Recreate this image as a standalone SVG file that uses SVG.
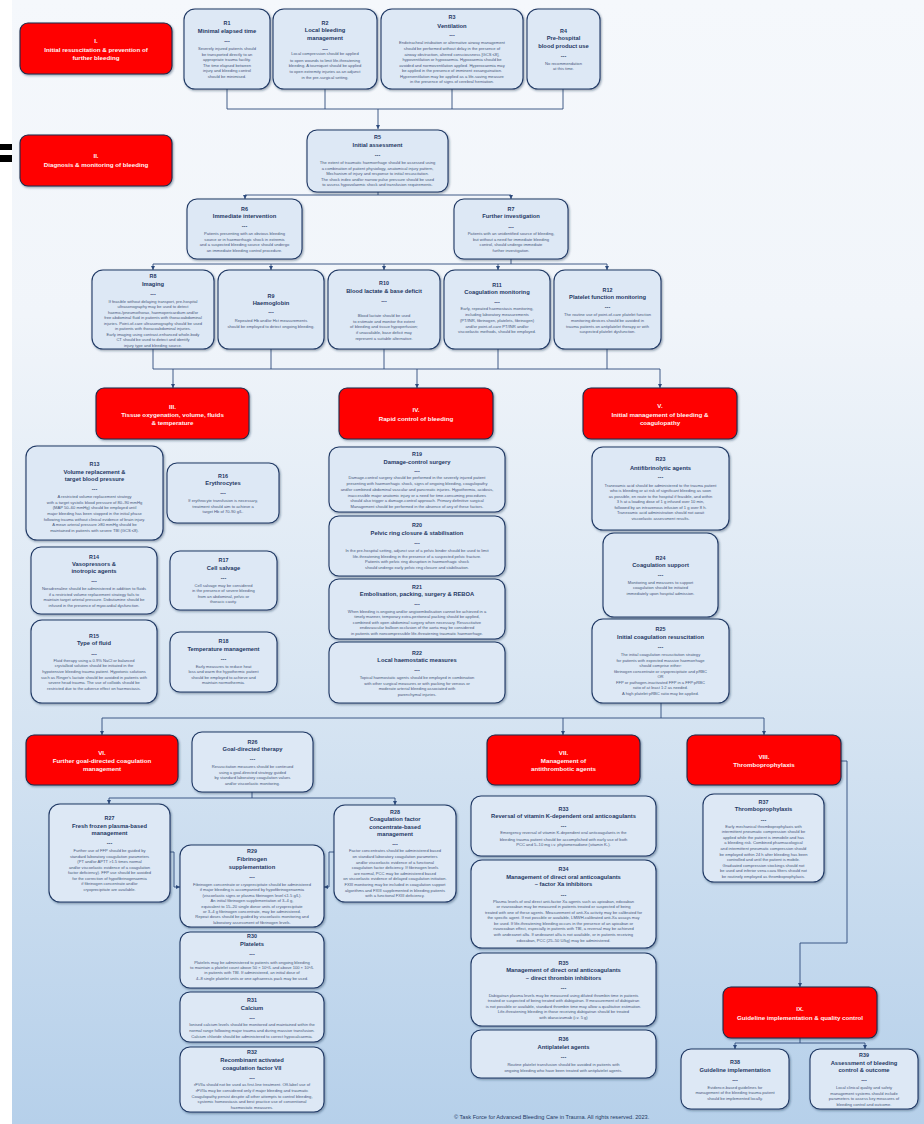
<svg xmlns="http://www.w3.org/2000/svg" width="924" height="1124" viewBox="0 0 924 1124">
<defs>
<linearGradient id="bg" x1="0" y1="0" x2="0" y2="1">
<stop offset="0" stop-color="#f5f8fc"/>
<stop offset="0.28" stop-color="#f1f5fa"/>
<stop offset="0.6" stop-color="#d9e6f3"/>
<stop offset="1" stop-color="#b6d0ea"/>
</linearGradient>
<filter id="sh" x="-10%" y="-10%" width="125%" height="130%">
<feDropShadow dx="1" dy="1.2" stdDeviation="0.8" flood-color="#1a2a4a" flood-opacity="0.45"/>
</filter>
<marker id="ar" markerWidth="4" markerHeight="4" refX="4" refY="2" orient="auto" markerUnits="userSpaceOnUse">
<path d="M0,0 L4,2 L0,4 z" fill="#2c4a7c"/>
</marker>
<style>
.b{fill:#dde8f5;stroke:#1f3864;stroke-width:1.1;filter:url(#sh)}
.s{fill:#ff0000;stroke:#1c2a4a;stroke-width:1.1;filter:url(#sh)}
.n,.t,.d{font-family:'Liberation Sans',Arial,sans-serif;font-weight:bold;fill:#1f3864;text-anchor:middle}
.n{font-size:5.4px}
.t{font-size:5.8px}
.d{font-size:5.4px}
.y{font-family:'Liberation Sans',Arial,sans-serif;font-size:4.1px;fill:#47577a;text-anchor:middle}
.h{font-family:'Liberation Sans',Arial,sans-serif;font-weight:bold;font-size:6.2px;fill:#fff4f4;text-anchor:middle}
.l{stroke:#2c4a7c;stroke-width:0.9;fill:none}
.a{stroke:#2c4a7c;stroke-width:0.9;fill:none;marker-end:url(#ar)}
.f{font-family:'Liberation Sans',Arial,sans-serif;font-size:5.6px;fill:#1f3864}
</style>
</defs>
<rect x="0" y="0" width="924" height="1124" fill="#ffffff"/>
<rect x="12" y="0" width="912" height="1124" fill="url(#bg)"/>
<rect x="0" y="144" width="12" height="6" fill="#000"/>
<rect x="0" y="155" width="12" height="7" fill="#000"/>

<g id="connectors">
<path class="l" d="M227,89V109M325,89V109M452,89V109M563,89V109M227,109H563"/>
<path class="a" d="M378,109V129"/>
<path class="l" d="M378,192V195M245,195H511"/>
<path class="a" d="M245,195V199"/>
<path class="a" d="M511,195V199"/>
<path class="l" d="M511,259V264M153,264H607"/>
<path class="a" d="M153,264V270"/>
<path class="a" d="M271,264V270"/>
<path class="a" d="M384,264V270"/>
<path class="a" d="M498,264V270"/>
<path class="a" d="M607,264V270"/>
<path class="l" d="M153,349V369M271,349V369M384,349V369M498,349V369M607,349V369M153,369H660"/>
<path class="a" d="M173,369V388"/>
<path class="a" d="M417,369V388"/>
<path class="a" d="M660,369V388"/>
<path class="l" d="M661,703V718M102,718H764"/>
<path class="a" d="M102,718V735"/>
<path class="a" d="M563,718V735"/>
<path class="a" d="M764,718V735"/>
<path class="l" d="M252,792V798M109,798H395"/>
<path class="a" d="M109,798V804"/>
<path class="a" d="M395,798V805"/>
<path class="a" d="M170,852H174V887H180"/>
<path class="a" d="M334,852H329V887H324"/>
<path class="a" d="M841,761H847V943H800V987"/>
<path class="l" d="M800,1038V1043M735,1043H865"/>
<path class="a" d="M735,1043V1049"/>
<path class="a" d="M865,1043V1049"/>
</g>

<g id="secI"><rect class="s" x="20" y="23" width="152" height="51" rx="8"/>
<text class="h" x="96" y="42.5">I.</text><text class="h" x="96" y="51.5">Initial resuscitation  &amp; prevention of</text><text class="h" x="96" y="59.9">further bleeding</text></g>
<g id="secII"><rect class="s" x="20" y="135" width="152" height="51" rx="8"/>
<text class="h" x="96" y="158.2">II.</text><text class="h" x="96" y="166.9">Diagnosis &amp; monitoring of bleeding</text></g>
<g id="secIII"><rect class="s" x="96" y="388" width="153" height="51" rx="8"/>
<text class="h" x="172.5" y="409.2">III.</text><text class="h" x="172.5" y="416.9">Tissue oxygenation, volume, fluids</text><text class="h" x="172.5" y="424.5">&amp; temperature</text></g>
<g id="secIV"><rect class="s" x="339" y="388" width="154" height="51" rx="8"/>
<text class="h" x="416" y="412.2">IV.</text><text class="h" x="416" y="420.9">Rapid control of bleeding</text></g>
<g id="secV"><rect class="s" x="583" y="388" width="154" height="51" rx="8"/>
<text class="h" x="660" y="408.2">V.</text><text class="h" x="660" y="416.5">Initial management of bleeding &amp;</text><text class="h" x="660" y="424.9">coagulopathy</text></g>
<g id="secVI"><rect class="s" x="26" y="735" width="152" height="50" rx="8"/>
<text class="h" x="102" y="754.5">VI.</text><text class="h" x="102" y="762.9">Further goal-directed coagulation</text><text class="h" x="102" y="770.9">management</text></g>
<g id="secVII"><rect class="s" x="487" y="735" width="153" height="50" rx="8"/>
<text class="h" x="563.5" y="754.5">VII.</text><text class="h" x="563.5" y="762.9">Management of</text><text class="h" x="563.5" y="770.9">antithrombotic agents</text></g>
<g id="secVIII"><rect class="s" x="687" y="735" width="154" height="50" rx="8"/>
<text class="h" x="764" y="758.5">VIII.</text><text class="h" x="764" y="766.9">Thromboprophylaxis</text></g>
<g id="secIX"><rect class="s" x="723" y="987" width="154" height="51" rx="8"/>
<text class="h" x="800" y="1010.5">IX.</text><text class="h" x="800" y="1019.9">Guideline implementation &amp; quality control</text></g>

<g id="R1"><rect class="b" x="184" y="9" width="86" height="80" rx="11"/>
<text class="n" x="227" y="25.2">R1</text><text class="t" x="227" y="32.9">Minimal elapsed time</text><text class="d" x="227" y="42.7">---</text>
<text class="y"><tspan x="227" y="49.8">Severely injured patients should</tspan><tspan x="227" y="55.5">be transported directly to an</tspan><tspan x="227" y="60.8">appropriate trauma facility.</tspan><tspan x="227" y="66.8">The time elapsed between</tspan><tspan x="227" y="72.2">injury and bleeding control</tspan><tspan x="227" y="77.8">should be minimised.</tspan></text></g>

<g id="R2"><rect class="b" x="273" y="9" width="104" height="80" rx="11"/>
<text class="n" x="325" y="24.6">R2</text><text class="t" x="325" y="31.9">Local bleeding</text><text class="t" x="325" y="39.9">management</text><text class="d" x="325" y="50.7">---</text>
<text class="y"><tspan x="325" y="55.2">Local compression should be applied</tspan><tspan x="325" y="61.5">to open wounds to limit life-threatening</tspan><tspan x="325" y="67.2">bleeding. A tourniquet should be applied</tspan><tspan x="325" y="73.2">to open extremity injuries as an adjunct</tspan><tspan x="325" y="78.8">in the pre-surgical setting.</tspan></text></g>

<g id="R3"><rect class="b" x="381" y="9" width="142" height="80" rx="11"/>
<text class="n" x="452" y="19.2">R3</text><text class="t" x="452" y="27.6">Ventilation</text><text class="d" x="452" y="37">---</text>
<text class="y"><tspan x="452" y="43.8">Endotracheal intubation or alternative airway management</tspan><tspan x="452" y="49.5">should be performed without delay in the presence of</tspan><tspan x="452" y="55.5">airway obstruction, altered consciousness [GCS ≤8],</tspan><tspan x="452" y="60.8">hypoventilation or hypoxaemia. Hypoxaemia should be</tspan><tspan x="452" y="66.5">avoided and normoventilation applied. Hyperoxaemia may</tspan><tspan x="452" y="72.2">be applied in the presence of imminent exsanguination.</tspan><tspan x="452" y="77.8">Hyperventilation may be applied as a life-saving measure</tspan><tspan x="452" y="83.2">in the presence of signs of cerebral herniation.</tspan></text></g>

<g id="R4"><rect class="b" x="527" y="9" width="73" height="80" rx="11"/>
<text class="n" x="563.5" y="32.6">R4</text><text class="t" x="563.5" y="39.9">Pre-hospital</text><text class="t" x="563.5" y="47.9">blood product use</text><text class="d" x="563.5" y="57.7">---</text>
<text class="y"><tspan x="563.5" y="64.8">No recommendation</tspan><tspan x="563.5" y="69.8">at this time.</tspan></text></g>

<g id="R5"><rect class="b" x="307" y="130" width="141" height="62" rx="10"/>
<text class="n" x="377.5" y="138.9">R5</text><text class="t" x="377.5" y="146.6">Initial assessment</text><text class="d" x="377.5" y="157">---</text>
<text class="y"><tspan x="377.5" y="163.8">The extent of traumatic haemorrhage should be assessed using</tspan><tspan x="377.5" y="169.8">a combination of patient physiology, anatomical injury pattern,</tspan><tspan x="377.5" y="174.8">Mechanism of injury and response to initial resuscitation.</tspan><tspan x="377.5" y="180.5">The shock index and/or narrow pulse pressure should be used</tspan><tspan x="377.5" y="185.8">to assess hypovolaemic shock and transfusion requirements.</tspan></text></g>

<g id="R6"><rect class="b" x="187" y="199" width="115" height="60" rx="10"/>
<text class="n" x="244.5" y="210.6">R6</text><text class="t" x="244.5" y="217.9">Immediate intervention</text><text class="d" x="244.5" y="228.4">---</text>
<text class="y"><tspan x="244.5" y="234.8">Patients presenting with an obvious bleeding</tspan><tspan x="244.5" y="240.5">source or in haemorrhagic shock in extremis</tspan><tspan x="244.5" y="245.8">and a suspected bleeding source should undergo</tspan><tspan x="244.5" y="251.5">an immediate bleeding control procedure.</tspan></text></g>

<g id="R7"><rect class="b" x="454" y="199" width="114" height="60" rx="10"/>
<text class="n" x="511" y="210.6">R7</text><text class="t" x="511" y="217.9">Further investigation</text><text class="d" x="511" y="228.7">---</text>
<text class="y"><tspan x="511" y="234.8">Patients with an unidentified source of bleeding,</tspan><tspan x="511" y="240.8">but without a need for immediate bleeding</tspan><tspan x="511" y="246.2">control, should undergo immediate</tspan><tspan x="511" y="251.8">further investigation.</tspan></text></g>

<g id="R8"><rect class="b" x="92" y="270" width="122" height="79" rx="11"/>
<text class="n" x="153" y="277.9">R8</text><text class="t" x="153" y="285.9">Imaging</text><text class="d" x="153" y="296">---</text>
<text class="y"><tspan x="153" y="302.5">If feasible without delaying transport, pre-hospital</tspan><tspan x="153" y="307.8">ultrasonography may be used to detect</tspan><tspan x="153" y="313.5">haemo-/pneumothorax, haemopericardium and/or</tspan><tspan x="153" y="318.8">free abdominal fluid in patients with thoracoabdominal</tspan><tspan x="153" y="324.5">injuries. Point-of-care ultrasonography should be used</tspan><tspan x="153" y="329.8">in patients with thoracoabdominal injuries.</tspan><tspan x="153" y="335.8">Early imaging using contrast-enhanced whole-body</tspan><tspan x="153" y="341.2">CT should be used to detect and identify</tspan><tspan x="153" y="346.8">injury type and bleeding source.</tspan></text></g>

<g id="R9"><rect class="b" x="218" y="270" width="106" height="79" rx="11"/>
<text class="n" x="271" y="297.6">R9</text><text class="t" x="271" y="304.6">Haemoglobin</text><text class="d" x="271" y="314.4">---</text>
<text class="y"><tspan x="271" y="321.5">Repeated Hb and/or Hct measurements</tspan><tspan x="271" y="327.5">should be employed to detect ongoing bleeding.</tspan></text></g>

<g id="R10"><rect class="b" x="328" y="270" width="112" height="79" rx="11"/>
<text class="n" x="384" y="285.2">R10</text><text class="t" x="384" y="292.6">Blood lactate &amp; base deficit</text><text class="d" x="384" y="302.7">---</text>
<text class="y"><tspan x="384" y="316.5">Blood lactate should be used</tspan><tspan x="384" y="322.5">to estimate and monitor the extent</tspan><tspan x="384" y="328.2">of bleeding and tissue hypoperfusion;</tspan><tspan x="384" y="333.8">if unavailable, base deficit may</tspan><tspan x="384" y="339.5">represent a suitable alternative.</tspan></text></g>

<g id="R11"><rect class="b" x="444" y="270" width="106" height="79" rx="11"/>
<text class="n" x="497" y="286.9">R11</text><text class="t" x="497" y="293.6">Coagulation monitoring</text><text class="d" x="497" y="303.7">---</text>
<text class="y"><tspan x="497" y="310.2">Early, repeated haemostasis monitoring,</tspan><tspan x="497" y="315.8">including laboratory measurements</tspan><tspan x="497" y="321.5">(PT/INR, fibrinogen, platelets, fibrinogen)</tspan><tspan x="497" y="327.5">and/or point-of-care PT/INR and/or</tspan><tspan x="497" y="332.8">viscoelastic methods, should be employed.</tspan></text></g>

<g id="R12"><rect class="b" x="554" y="270" width="107" height="79" rx="11"/>
<text class="n" x="607.5" y="291.6">R12</text><text class="t" x="607.5" y="298.9">Platelet function monitoring</text><text class="d" x="607.5" y="309.4">---</text>
<text class="y"><tspan x="607.5" y="315.8">The routine use of point-of-care platelet function</tspan><tspan x="607.5" y="321.5">monitoring devices should be avoided in</tspan><tspan x="607.5" y="327.5">trauma patients on antiplatelet therapy or with</tspan><tspan x="607.5" y="333.2">suspected platelet dysfunction.</tspan></text></g>

<g id="R13"><rect class="b" x="26" y="446" width="137" height="94" rx="11"/>
<text class="n" x="94.5" y="466.2">R13</text><text class="t" x="94.5" y="473.6">Volume replacement &amp;</text><text class="t" x="94.5" y="480.6">target blood pressure</text><text class="d" x="94.5" y="491">---</text>
<text class="y"><tspan x="94.5" y="497.8">A restricted volume replacement strategy</tspan><tspan x="94.5" y="503.5">with a target systolic blood pressure of  80–90 mmHg</tspan><tspan x="94.5" y="508.8">(MAP 50–60 mmHg) should be employed until</tspan><tspan x="94.5" y="514.8">major bleeding has been stopped in the initial phase</tspan><tspan x="94.5" y="520.5">following trauma without clinical evidence of brain injury.</tspan><tspan x="94.5" y="525.8">A mean arterial pressure ≥80 mmHg should be</tspan><tspan x="94.5" y="531.5">maintained in patients with severe TBI (GCS ≤8).</tspan></text></g>

<g id="R16"><rect class="b" x="167" y="463" width="112" height="60" rx="10"/>
<text class="n" x="223" y="477.6">R16</text><text class="t" x="223" y="484.6">Erythrocytes</text><text class="d" x="223" y="495.4">---</text>
<text class="y"><tspan x="223" y="501.8">If erythrocyte transfusion is necessary,</tspan><tspan x="223" y="507.5">treatment should aim to achieve a</tspan><tspan x="223" y="512.8">target Hb of 70-90 g/L.</tspan></text></g>

<g id="R14"><rect class="b" x="31" y="547" width="126" height="67" rx="10"/>
<text class="n" x="94" y="558.6">R14</text><text class="t" x="94" y="565.9">Vasopressors &amp;</text><text class="t" x="94" y="572.9">inotropic agents</text><text class="d" x="94" y="583.4">---</text>
<text class="y"><tspan x="94" y="589.8">Noradrenaline should be administered in addition to fluids</tspan><tspan x="94" y="595.5">if a restricted volume replacement strategy fails to</tspan><tspan x="94" y="600.8">maintain target arterial pressure. Dobutamine should be</tspan><tspan x="94" y="606.5">infused in the presence of myocardial dysfunction.</tspan></text></g>

<g id="R17"><rect class="b" x="170" y="551" width="107" height="59" rx="10"/>
<text class="n" x="223.5" y="561.6">R17</text><text class="t" x="223.5" y="569.6">Cell salvage</text><text class="d" x="223.5" y="580">---</text>
<text class="y"><tspan x="223.5" y="586.5">Cell salvage may be considered</tspan><tspan x="223.5" y="591.8">in the presence of severe bleeding</tspan><tspan x="223.5" y="597.5">from an abdominal, pelvic or</tspan><tspan x="223.5" y="603.2">thoracic cavity.</tspan></text></g>

<g id="R15"><rect class="b" x="31" y="620" width="126" height="83" rx="11"/>
<text class="n" x="94" y="637.6">R15</text><text class="t" x="94" y="644.9">Type of fluid</text><text class="d" x="94" y="655.7">---</text>
<text class="y"><tspan x="94" y="661.5">Fluid therapy using a 0.9% NaCl or balanced</tspan><tspan x="94" y="667.2">crystalloid solution should be initiated in the</tspan><tspan x="94" y="672.8">hypotensive bleeding trauma patient. Hypotonic solutions</tspan><tspan x="94" y="678.5">such as Ringer's lactate should be avoided in patients with</tspan><tspan x="94" y="683.8">severe head trauma. The use of colloids should be</tspan><tspan x="94" y="689.5">restricted due to the adverse effect on haemostasis.</tspan></text></g>

<g id="R18"><rect class="b" x="170" y="632" width="107" height="60" rx="10"/>
<text class="n" x="223.5" y="642.6">R18</text><text class="t" x="223.5" y="650.6">Temperature management</text><text class="d" x="223.5" y="661">---</text>
<text class="y"><tspan x="223.5" y="667.5">Early measures to reduce heat</tspan><tspan x="223.5" y="672.8">loss and warm the hypothermic patient</tspan><tspan x="223.5" y="678.5">should be employed to achieve and</tspan><tspan x="223.5" y="683.8">maintain normothermia.</tspan></text></g>

<g id="R19"><rect class="b" x="329" y="447" width="176" height="65" rx="10"/>
<text class="n" x="417" y="455.9">R19</text><text class="t" x="417" y="463.9">Damage-control surgery</text><text class="d" x="417" y="473.4">---</text>
<text class="y"><tspan x="417" y="479.2">Damage-control surgery should be performed in the severely injured patient</tspan><tspan x="417" y="485.2">presenting with haemorrhagic shock, signs of ongoing bleeding, coagulopathy</tspan><tspan x="417" y="491.2">and/or combined abdominal vascular and pancreatic injuries. Hypothermia, acidosis,</tspan><tspan x="417" y="496.5">inaccessible major anatomic injury or a need for time-consuming procedures</tspan><tspan x="417" y="502.2">should also trigger a damage-control approach. Primary definitive surgical</tspan><tspan x="417" y="507.8">Management should be performed in the absence of any of these factors.</tspan></text></g>

<g id="R20"><rect class="b" x="329" y="516" width="176" height="60" rx="10"/>
<text class="n" x="417" y="526.9">R20</text><text class="t" x="417" y="534.6">Pelvic ring closure &amp; stabilisation</text><text class="d" x="417" y="545">---</text>
<text class="y"><tspan x="417" y="551.8">In the pre-hospital setting, adjunct use of a pelvic binder should be used to limit</tspan><tspan x="417" y="557.5">life-threatening bleeding in the presence of a suspected pelvic fracture.</tspan><tspan x="417" y="562.5">Patients with pelvic ring disruption in haemorrhagic shock</tspan><tspan x="417" y="568.8">should undergo early pelvic ring closure and stabilisation.</tspan></text></g>

<g id="R21"><rect class="b" x="329" y="579" width="176" height="60" rx="10"/>
<text class="n" x="417" y="588.6">R21</text><text class="t" x="417" y="595.9">Embolisation, packing, surgery &amp; REBOA</text><text class="d" x="417" y="606">---</text>
<text class="y"><tspan x="417" y="612.8">When bleeding is ongoing and/or angioembolisation cannot be achieved in a</tspan><tspan x="417" y="618.2">timely manner, temporary extra-peritoneal packing should be applied,</tspan><tspan x="417" y="623.8">combined with open abdominal surgery when necessary. Resuscitative</tspan><tspan x="417" y="628.8">endovascular balloon occlusion of the aorta may be considered</tspan><tspan x="417" y="634.8">in patients with noncompressible life-threatening traumatic haemorrhage.</tspan></text></g>

<g id="R22"><rect class="b" x="329" y="642" width="176" height="61" rx="10"/>
<text class="n" x="417" y="654.6">R22</text><text class="t" x="417" y="661.9">Local haemostatic measures</text><text class="d" x="417" y="672">---</text>
<text class="y"><tspan x="417" y="678.8">Topical haemostatic agents should be employed in combination</tspan><tspan x="417" y="684.5">with other surgical measures or with packing for venous or</tspan><tspan x="417" y="689.8">moderate arterial bleeding associated with</tspan><tspan x="417" y="695.8">parenchymal injuries.</tspan></text></g>

<g id="R23"><rect class="b" x="592" y="447" width="137" height="83" rx="11"/>
<text class="n" x="660.5" y="461.2">R23</text><text class="t" x="660.5" y="469.6">Antifibrinolytic agents</text><text class="d" x="660.5" y="478.7">---</text>
<text class="y"><tspan x="660.5" y="486.8">Tranexamic acid should be administered to the trauma patient</tspan><tspan x="660.5" y="492.2">who is bleeding or at risk of significant bleeding as soon</tspan><tspan x="660.5" y="497.5">as possible, en route to the hospital if feasible, and within</tspan><tspan x="660.5" y="502.8">3 h at a loading dose of 1 g infused over  10 min,</tspan><tspan x="660.5" y="508.5">followed by an intravenous infusion of 1 g over 8 h.</tspan><tspan x="660.5" y="513.8">Tranexamic acid administration should not await</tspan><tspan x="660.5" y="519.5">viscoelastic assessment results.</tspan></text></g>

<g id="R24"><rect class="b" x="603" y="533" width="115" height="84" rx="11"/>
<text class="n" x="660.5" y="559.6">R24</text><text class="t" x="660.5" y="566.9">Coagulation support</text><text class="d" x="660.5" y="577.4">---</text>
<text class="y"><tspan x="660.5" y="583.8">Monitoring and measures to support</tspan><tspan x="660.5" y="588.8">coagulation should be initiated</tspan><tspan x="660.5" y="594.8">immediately upon hospital admission.</tspan></text></g>

<g id="R25"><rect class="b" x="592" y="619" width="137" height="84" rx="11"/>
<text class="n" x="660.5" y="631.2">R25</text><text class="t" x="660.5" y="638.6">Initial coagulation resuscitation</text><text class="d" x="660.5" y="649.4">---</text>
<text class="y"><tspan x="660.5" y="655.5">The initial coagulation resuscitation strategy</tspan><tspan x="660.5" y="661.5">for patients with expected massive haemorrhage</tspan><tspan x="660.5" y="666.8">should comprise either:</tspan><tspan x="660.5" y="672.8">fibrinogen concentrate or cryoprecipitate and pRBC</tspan><tspan x="660.5" y="677.8">OR</tspan><tspan x="660.5" y="683.8">FFP or pathogen-inactivated FFP in a FFP:pRBC</tspan><tspan x="660.5" y="689.2">ratio of at least 1:2 as needed.</tspan><tspan x="660.5" y="694.5">A high platelet:pRBC ratio may be applied.</tspan></text></g>

<g id="R26"><rect class="b" x="192" y="732" width="121" height="60" rx="10"/>
<text class="n" x="252.5" y="743.6">R26</text><text class="t" x="252.5" y="750.6">Goal-directed therapy</text><text class="d" x="252.5" y="760.7">---</text>
<text class="y"><tspan x="252.5" y="767.5">Resuscitation measures should be continued</tspan><tspan x="252.5" y="773.5">using a goal-directed strategy guided</tspan><tspan x="252.5" y="778.8">by standard laboratory coagulation values</tspan><tspan x="252.5" y="784.8">and/or viscoelastic monitoring.</tspan></text></g>

<g id="R27"><rect class="b" x="49" y="804" width="121" height="98" rx="11"/>
<text class="n" x="109.5" y="819.6">R27</text><text class="t" x="109.5" y="827.6">Fresh frozen plasma-based</text><text class="t" x="109.5" y="834.6">management</text><text class="d" x="109.5" y="845">---</text>
<text class="y"><tspan x="109.5" y="851.5">Further use of FFP should be guided by</tspan><tspan x="109.5" y="857.5">standard laboratory coagulation parameters</tspan><tspan x="109.5" y="862.8">(PT and/or APTT &gt;1.5 times normal</tspan><tspan x="109.5" y="868.5">and/or viscoelastic evidence of a coagulation</tspan><tspan x="109.5" y="873.8">factor deficiency). FFP use should be avoided</tspan><tspan x="109.5" y="879.5">for the correction of hypofibrinogenaemia</tspan><tspan x="109.5" y="884.8">if fibrinogen concentrate and/or</tspan><tspan x="109.5" y="890.5">cryoprecipitate are available.</tspan></text></g>

<g id="R28"><rect class="b" x="334" y="805" width="122" height="97" rx="11"/>
<text class="n" x="395" y="813.6">R28</text><text class="t" x="395" y="820.9">Coagulation factor</text><text class="t" x="395" y="828.6">concentrate-based</text><text class="t" x="395" y="835.6">management</text><text class="d" x="395" y="846.2">---</text>
<text class="y"><tspan x="395" y="852.2">Factor concentrates should be administered based</tspan><tspan x="395" y="857.8">on standard laboratory coagulation parameters</tspan><tspan x="395" y="863.5">and/or viscoelastic evidence of a functional</tspan><tspan x="395" y="869.2">coagulation factor deficiency. If fibrinogen levels</tspan><tspan x="395" y="874.5">are normal, PCC may be administered based</tspan><tspan x="395" y="880.2">on viscoelastic evidence of delayed coagulation initiation.</tspan><tspan x="395" y="885.8">FXIII monitoring may be included in coagulation support</tspan><tspan x="395" y="891.5">algorithms and FXIII supplemented in bleeding patients</tspan><tspan x="395" y="896.8">with a functional FXIII deficiency.</tspan></text></g>

<g id="R29"><rect class="b" x="180" y="845" width="144" height="82" rx="11"/>
<text class="n" x="252" y="852.9">R29</text><text class="t" x="252" y="860.6">Fibrinogen</text><text class="t" x="252" y="868.9">supplementation</text><text class="d" x="252" y="878.7">---</text>
<text class="y"><tspan x="252" y="885.5">Fibrinogen concentrate or cryoprecipitate should be administered</tspan><tspan x="252" y="890.5">if major bleeding is accompanied by hypofibrinogenaemia</tspan><tspan x="252" y="896.5">(viscoelastic signs or plasma fibrinogen level ≤1.5 g/L).</tspan><tspan x="252" y="901.8">An initial fibrinogen supplementation of 3–4 g,</tspan><tspan x="252" y="907.5">equivalent to 15–20 single donor units of cryoprecipitate</tspan><tspan x="252" y="912.8">or 3–4 g fibrinogen concentrate, may be administered.</tspan><tspan x="252" y="918.2">Repeat doses should be guided by viscoelastic monitoring and</tspan><tspan x="252" y="923.8">laboratory assessment of fibrinogen levels.</tspan></text></g>

<g id="R30"><rect class="b" x="180" y="932" width="144" height="56" rx="10"/>
<text class="n" x="252" y="938.2">R30</text><text class="t" x="252" y="946.2">Platelets</text><text class="d" x="252" y="956">---</text>
<text class="y"><tspan x="252" y="963.5">Platelets may be administered to patients with ongoing bleeding</tspan><tspan x="252" y="968.8">to maintain a platelet count above 50 × 10⁹/L and above 100 × 10⁹/L</tspan><tspan x="252" y="974.2">in patients with TBI. If administered, an initial dose of</tspan><tspan x="252" y="979.8">4–8 single platelet units or one aphaeresis pack may be used.</tspan></text></g>

<g id="R31"><rect class="b" x="180" y="992" width="144" height="50" rx="10"/>
<text class="n" x="252" y="1002.2">R31</text><text class="t" x="252" y="1009.6">Calcium</text><text class="d" x="252" y="1019.7">---</text>
<text class="y"><tspan x="252" y="1026.2">Ionised calcium levels should be monitored and maintained within the</tspan><tspan x="252" y="1031.8">normal range following major trauma and during massive transfusion.</tspan><tspan x="252" y="1037.5">Calcium chloride should be administered to correct hypocalcaemia.</tspan></text></g>

<g id="R32"><rect class="b" x="180" y="1047" width="144" height="65" rx="10"/>
<text class="n" x="252" y="1054.2">R32</text><text class="t" x="252" y="1062.2">Recombinant activated</text><text class="t" x="252" y="1069.6">coagulation factor VII</text><text class="d" x="252" y="1080.4">---</text>
<text class="y"><tspan x="252" y="1086.2">rFVIIa should not be used as first-line treatment. Off-label use of</tspan><tspan x="252" y="1092.2">rFVIIa may be considered only if major bleeding and traumatic</tspan><tspan x="252" y="1097.5">Coagulopathy persist despite all other attempts to control bleeding,</tspan><tspan x="252" y="1103.2">systemic homeostasis and best practice use of conventional</tspan><tspan x="252" y="1108.5">haemostatic measures.</tspan></text></g>

<g id="R33"><rect class="b" x="471" y="796" width="185" height="60" rx="10"/>
<text class="n" x="563.5" y="810.9">R33</text><text class="t" x="563.5" y="817.9">Reversal of vitamin K-dependent oral anticoagulants</text><text class="d" x="563.5" y="828.4">---</text>
<text class="y"><tspan x="563.5" y="834.2">Emergency reversal of vitamin K-dependent oral anticoagulants in the</tspan><tspan x="563.5" y="840.5">bleeding trauma patient should be accomplished with early use of both</tspan><tspan x="563.5" y="845.5">PCC and 5–10 mg i.v. phytomenadione (vitamin K₁).</tspan></text></g>

<g id="R34"><rect class="b" x="471" y="860" width="185" height="88" rx="11"/>
<text class="n" x="563.5" y="871.2">R34</text><text class="t" x="563.5" y="878.9">Management of direct oral anticoagulants</text><text class="t" x="563.5" y="885.6">– factor Xa inhibitors</text><text class="d" x="563.5" y="896.7">---</text>
<text class="y"><tspan x="563.5" y="902.5">Plasma levels of oral direct anti-factor Xa agents such as apixaban, edoxaban</tspan><tspan x="563.5" y="908.2">or rivaroxaban may be measured in patients treated or suspected of being</tspan><tspan x="563.5" y="913.5">treated with one of these agents. Measurement of anti-Xa activity may be calibrated for</tspan><tspan x="563.5" y="919.2">the specific agent. If not possible or available, LMWH-calibrated anti-Xa assays may</tspan><tspan x="563.5" y="924.8">be used. If life-threatening bleeding occurs in the presence of an  apixaban or</tspan><tspan x="563.5" y="930.2">rivaroxaban effect, especially in patients with TBI, a reversal may be achieved</tspan><tspan x="563.5" y="935.8">with andexanet alfa. If andexanet alfa is not available, or in patients receiving</tspan><tspan x="563.5" y="941.5">edoxaban, PCC (25–50 U/kg) may be administered.</tspan></text></g>

<g id="R35"><rect class="b" x="471" y="953" width="185" height="73" rx="11"/>
<text class="n" x="563.5" y="964.6">R35</text><text class="t" x="563.5" y="971.9">Management of direct oral anticoagulants</text><text class="t" x="563.5" y="979.6">– direct thrombin inhibitors</text><text class="d" x="563.5" y="990">---</text>
<text class="y"><tspan x="563.5" y="996.5">Dabigatran plasma levels may be measured using diluted thrombin time in patients</tspan><tspan x="563.5" y="1001.8">treated or suspected of being treated with dabigatran. If measurement of dabigatran</tspan><tspan x="563.5" y="1007.5">is not possible or available, standard thrombin time may allow a qualitative estimation.</tspan><tspan x="563.5" y="1013.2">Life-threatening bleeding in those receiving dabigatran should be treated</tspan><tspan x="563.5" y="1018.5">with idarucizumab (i.v. 5 g)</tspan></text></g>

<g id="R36"><rect class="b" x="471" y="1030" width="185" height="48" rx="10"/>
<text class="n" x="563.5" y="1041.2">R36</text><text class="t" x="563.5" y="1048.9">Antiplatelet agents</text><text class="d" x="563.5" y="1059.4">---</text>
<text class="y"><tspan x="563.5" y="1065.8">Routine platelet transfusion should be  avoided in patients with</tspan><tspan x="563.5" y="1071.5">ongoing bleeding who have been treated with antiplatelet agents.</tspan></text></g>

<g id="R37"><rect class="b" x="703" y="794" width="121" height="88" rx="11"/>
<text class="n" x="763.5" y="803.6">R37</text><text class="t" x="763.5" y="810.9">Thromboprophylaxis</text><text class="d" x="763.5" y="821.7">---</text>
<text class="y"><tspan x="763.5" y="827.5">Early mechanical thromboprophylaxis with</tspan><tspan x="763.5" y="833.2">intermittent pneumatic compression should be</tspan><tspan x="763.5" y="838.5">applied while the patient is immobile and has</tspan><tspan x="763.5" y="843.8">a bleeding risk. Combined pharmacological</tspan><tspan x="763.5" y="849.8">and intermittent pneumatic compression should</tspan><tspan x="763.5" y="855.5">be employed within 24 h after bleeding has been</tspan><tspan x="763.5" y="860.8">controlled and until the patient is mobile.</tspan><tspan x="763.5" y="866.5">Graduated compression stockings should not</tspan><tspan x="763.5" y="871.8">be used and inferior vena cava filters should not</tspan><tspan x="763.5" y="877.8">be routinely employed as thromboprophylaxis.</tspan></text></g>

<g id="R38"><rect class="b" x="681" y="1049" width="108" height="60" rx="10"/>
<text class="n" x="735" y="1063.6">R38</text><text class="t" x="735" y="1071.6">Guideline implementation</text><text class="d" x="735" y="1081.7">---</text>
<text class="y"><tspan x="735" y="1088.8">Evidence-based guidelines for</tspan><tspan x="735" y="1094.2">management of the bleeding trauma patient</tspan><tspan x="735" y="1099.8">should be implemented locally.</tspan></text></g>

<g id="R39"><rect class="b" x="810" y="1049" width="108" height="60" rx="10"/>
<text class="n" x="864" y="1057.2">R39</text><text class="t" x="864" y="1064.9">Assessment of bleeding</text><text class="t" x="864" y="1071.9">control &amp; outcome</text><text class="d" x="864" y="1082.4">---</text>
<text class="y"><tspan x="864" y="1088.8">Local clinical quality and safety</tspan><tspan x="864" y="1094.5">management systems should include</tspan><tspan x="864" y="1100.2">parameters to assess key measures of</tspan><tspan x="864" y="1105.8">bleeding control and outcome.</tspan></text></g>

<text class="f" x="454" y="1119">© Task Force for Advanced Bleeding Care in Trauma. All rights reserved. 2023.</text>
</svg>
